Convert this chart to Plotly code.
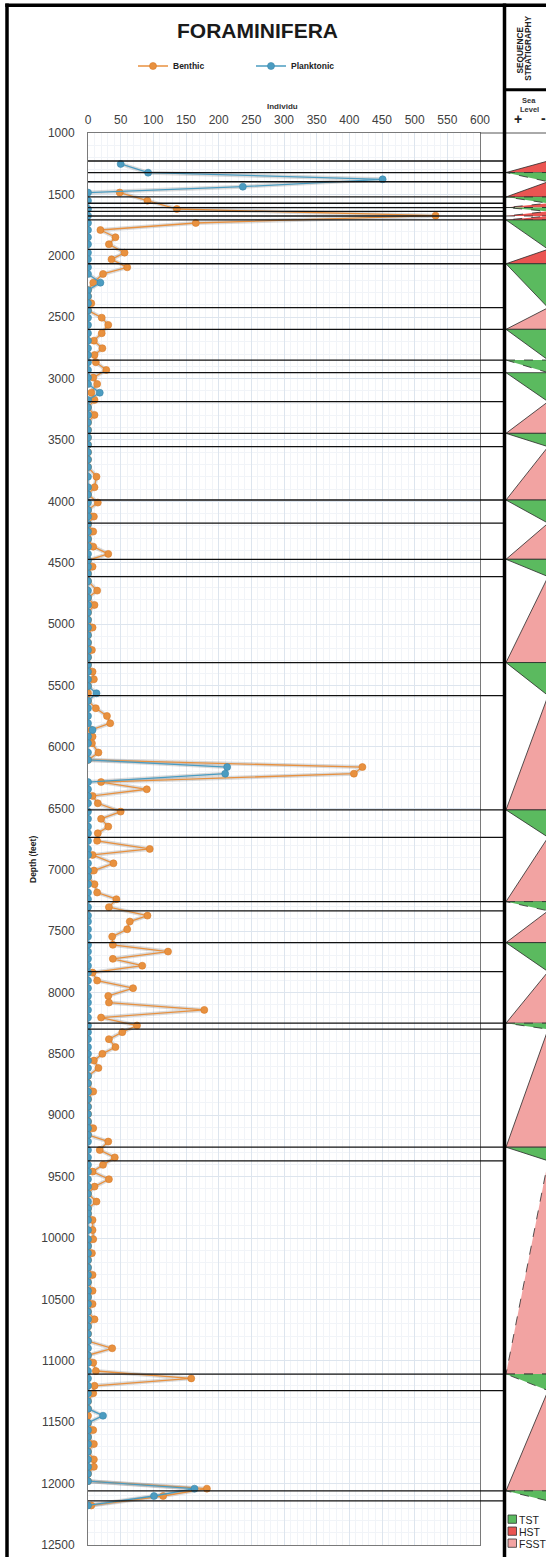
import plotly.graph_objects as go

# ---------------- data ----------------
depth = [1252, 1323, 1377, 1437, 1485, 1551, 1619, 1673, 1733, 1790, 1849, 1906, 1975, 2029, 2094, 2148,
         2219, 2280, 2330, 2387, 2445, 2504, 2563, 2631, 2691, 2753, 2808, 2867, 2930, 2992, 3044, 3115,
         3174, 3235, 3296, 3357, 3418, 3480, 3540, 3600, 3660, 3720, 3799, 3885, 3945, 4010, 4070, 4124,
         4185, 4246, 4307, 4369, 4428, 4480, 4532, 4590, 4650, 4727, 4785, 4844, 4905, 4965, 5028, 5090,
         5150, 5210, 5270, 5330, 5387, 5449, 5505, 5563, 5625, 5685, 5748, 5807, 5862, 5916, 5970, 6046,
         6106, 6164, 6218, 6286, 6345, 6399, 6459, 6527, 6586, 6649, 6703, 6765, 6831, 6880, 6948, 7007,
         7060, 7118, 7186, 7240, 7305, 7374, 7422, 7485, 7545, 7612, 7667, 7726, 7782, 7838, 7903, 7965,
         8028, 8082, 8142, 8204, 8269, 8323, 8380, 8445, 8500, 8555, 8615, 8680, 8740, 8807, 8870, 8930,
         8990, 9050, 9105, 9160, 9214, 9283, 9343, 9404, 9459, 9521, 9581, 9640, 9703, 9760, 9800, 9853,
         9935, 10009, 10065, 10123, 10180, 10240, 10300, 10360, 10430, 10480, 10537, 10600, 10662, 10720,
         10780, 10840, 10898, 10955, 11015, 11083, 11143, 11203, 11264, 11330, 11390, 11447, 11505, 11564,
         11620, 11678, 11740, 11803, 11863, 11920, 11980, 12041, 12101, 12178]

benthic = [None, None, None, None, 48.5, 91, 136, 532, 165, 19, 42, 32, 56, 36, 60, 23,
           8, 0, 0, 5, 0, 21, 31, 21, 9, 22, 10, 12, 28, 8, 14, 5,
           10, 0, 10, 0, 0, 0, 0, 0, 0, 0, 13, 10, 0, 15, 0, 9,
           0, 8, 0, 8, 31, 0, 7, 0, 0, 14, 0, 10, 0, 0, 7, 0,
           0, 6, 0, 0, 7, 9, 0, 0, 0, 12, 29, 34, 5, 7, 6, 16,
           0, 420, 407, 20, 90, 7, 15, 50, 20, 31, 15, 14, 94.5, 7, 39, 9,
           0, 10, 14, 43.5, 32, 91, 64, 60, 37, 38, 122.5, 38, 83, 7, 14, 69,
           31, 32, 178, 20, 75, 52.5, 32, 42, 22, 9, 16, 0, 0, 8, 0, 0,
           0, 0, 8, 0, 31, 18, 41, 23, 7, 32, 10, 0, 13, 0, 0, 7,
           7, 8, 0, 6, 0, 0, 7, 0, 7, 0, 7, 0, 10, 0,
           0, 0, 37, 0, 8, 12, 158, 10, 8, 0, 0, 0, 0, 8,
           0, 9, 0, 9, 9, 0, 0, 182, 115, 5]

planktonic = [50, 92, 451, 237, 0, 0, 0, 0, 0, 0, 0, 0, 0, 0, 0, 0,
              19, 0, 0, 0, 0, 0, 0, 0, 0, 0, 0, 0, 0, 0, 0, 18,
              0, 0, 0, 0, 0, 0, 0, 0, 0, 0, 0, 0, 0, 0, 0, 0,
              0, 0, 0, 0, 0, 0, 0, 0, 0, 0, 0, 0, 0, 0, 0, 0,
              0, 0, 0, 0, 0, 0, 0, 13, 0, 0, 0, 0, 7, 0, 0, 0,
              0, 213, 210, 0, 0, 0, 0, 0, 0, 0, 0, 0, 0, 0, 0, 0,
              0, 0, 0, 0, 0, 0, 0, 0, 0, 0, 0, 0, 0, 0, 0, 0,
              0, 0, 0, 0, 0, 0, 0, 0, 0, 0, 0, 0, 0, 0, 0, 0,
              0, 0, 0, 0, 0, 0, 0, 0, 0, 0, 0, 0, 0, 0, 0, 0,
              0, 0, 0, 0, 0, 0, 0, 0, 0, 0, 0, 0, 0, 0,
              0, 0, 0, 0, 0, 0, 0, 0, 0, 0, 0, 23, 0, 0,
              0, 0, 0, 0, 0, 0, 0, 163, 101, 0]

# sequence-stratigraphy surfaces (depth, feet) and the systems tract between consecutive surfaces
surfaces = [1228, 1322, 1397, 1521, 1572, 1607, 1638, 1676, 1708, 1947, 2065, 2423, 2599, 2849, 2952,
            3188, 3446, 3555, 3989, 4178, 4472, 4613, 5313, 5582, 6513, 6736, 7260, 7335, 7594, 7830,
            8250, 8299, 9260, 9371, 11108, 11242, 12059, 12141]
tracts = ["HST", "TST", "HST", "TST", "HST", "TST", "HST", "HST", "TST", "HST", "TST", "FSST", "TST",
          "TST", "TST", "FSST", "TST", "FSST", "TST", "FSST", "TST", "FSST", "TST", "FSST", "TST",
          "FSST", "TST", "FSST", "TST", "FSST", "TST", "FSST", "TST", "FSST", "TST", "FSST", "TST"]
dashed = [0, 1, 0, 1, 1, 1, 1, 1, 0, 0, 0, 0, 0, 1, 0, 0, 0, 0, 0, 0, 0, 0, 0, 0, 0,
          0, 1, 0, 0, 0, 1, 0, 0, 1, 1, 0, 1]

tract_names = ["TST", "HST", "FSST"]
tract_colors = {"TST": "#5BBA5F", "HST": "#EA5552", "FSST": "#F2A3A2"}

x_ticks = list(range(0, 601, 50))
y_ticks = list(range(1000, 12501, 500))

ORANGE = "#E8913F"
BLUE = "#4B9CC1"
FONT = "Liberation Sans, Arial, sans-serif"

# ---------------- geometry helpers (pixel -> paper) ----------------
W, H = 546, 1557
L, R_PLOT, T, B_PLOT = 88, 480, 133, 1545
PW = W - L          # plot width incl. right panel (margin r = 0)
PH = B_PLOT - T


def fx(px):
    return (px - L) / PW


def fy(py):
    return 1 - (py - T) / PH


fig = go.Figure()

# shadows
for vals in (benthic, planktonic):
    fig.add_trace(go.Scatter(x=vals, y=depth, mode="lines", showlegend=False, hoverinfo="skip",
                             line=dict(color="rgba(90,90,90,0.22)", width=4)))

fig.add_trace(go.Scatter(x=benthic, y=depth, mode="lines+markers", name="Benthic",
                         line=dict(color=ORANGE, width=1.3),
                         marker=dict(color=ORANGE, size=7, line=dict(color="#D87A28", width=0.6))))
fig.add_trace(go.Scatter(x=planktonic, y=depth, mode="lines+markers", name="Planktonic",
                         line=dict(color=BLUE, width=1.3),
                         marker=dict(color=BLUE, size=7, line=dict(color="#3A86AA", width=0.6))))
# invisible trace to instantiate the stratigraphy axis
fig.add_trace(go.Scatter(x=[0], y=[1000], xaxis="x2", yaxis="y", mode="markers",
                         marker=dict(opacity=0), showlegend=False, hoverinfo="skip"))

shapes = []
# white backing for the stratigraphy column (hides grid lines there)
shapes.append(dict(type="rect", xref="paper", yref="paper", x0=fx(505), x1=1.01, y0=fy(1545), y1=fy(133.5),
                   fillcolor="white", line=dict(width=0), layer="above"))
# systems tract triangles
for i, tr in enumerate(tracts):
    top, bot = surfaces[i], surfaces[i + 1]
    if tr == "TST":
        path = f"M 0,{top} L 1,{top} L 1,{bot} Z"
    else:
        path = f"M 0,{bot} L 1,{bot} L 1,{top} Z"
    shapes.append(dict(type="path", path=path, xref="x2", yref="y",
                       fillcolor=tract_colors[tr], layer="above",
                       line=dict(color="#2a2a2a", width=0.8, dash="dash" if dashed[i] else "solid")))
# surfaces (horizontal lines through the chart and the stratigraphy column)
for d in surfaces:
    shapes.append(dict(type="line", xref="paper", yref="y", x0=fx(L), x1=fx(505), y0=d, y1=d,
                       line=dict(color="#111111", width=1.3)))
# top line of the right panel
shapes.append(dict(type="line", xref="paper", yref="paper", x0=fx(480), x1=1, y0=fy(133), y1=fy(133),
                   line=dict(color="#555555", width=1)))
# outer frame
shapes.append(dict(type="line", xref="paper", yref="paper", x0=fx(7), x1=fx(7), y0=fy(3.5), y1=fy(1560),
                   line=dict(color="#000000", width=3.5)))
shapes.append(dict(type="line", xref="paper", yref="paper", x0=fx(5.3), x1=1.01, y0=fy(5.2), y1=fy(5.2),
                   line=dict(color="#000000", width=3.5)))
shapes.append(dict(type="line", xref="paper", yref="paper", x0=fx(504.5), x1=fx(504.5), y0=fy(3.5), y1=fy(1560),
                   line=dict(color="#000000", width=3.5)))
shapes.append(dict(type="line", xref="paper", yref="paper", x0=fx(504.5), x1=1.01, y0=fy(89.7), y1=fy(89.7),
                   line=dict(color="#000000", width=3)))
# tract legend squares
sq_top = [1515, 1527, 1539]
for name, ytop in zip(tract_names, sq_top):
    shapes.append(dict(type="rect", xref="paper", yref="paper", x0=fx(508), x1=fx(516.5),
                       y0=fy(ytop), y1=fy(ytop + 8.3), fillcolor=tract_colors[name],
                       line=dict(color="#333333", width=0.8), layer="above"))

annotations = [
    dict(text="FORAMINIFERA", x=fx(257), y=fy(31), font=dict(size=21, color="#1a1a1a", family=FONT, weight="bold")),
    dict(text="Individu", x=fx(282), y=fy(106), font=dict(size=8, color="#333333", family=FONT, weight="bold")),
    dict(text="Depth (feet)", x=fx(33), y=fy(860), textangle=-90,
         font=dict(size=8.5, color="#222222", family=FONT, weight="bold")),
    dict(text="SEQUENCE", x=fx(519.5), y=fy(50), textangle=-90,
         font=dict(size=8.3, color="#222222", family=FONT, weight="bold")),
    dict(text="STRATIGRAPHY", x=fx(528.3), y=fy(48.5), textangle=-90,
         font=dict(size=8.3, color="#222222", family=FONT, weight="bold")),
    dict(text="Sea", x=fx(529), y=fy(100), font=dict(size=7.5, color="#333333", family=FONT, weight="bold")),
    dict(text="Level", x=fx(529), y=fy(109.5), font=dict(size=7.5, color="#333333", family=FONT, weight="bold")),
    dict(text="+", x=fx(517.7), y=fy(118.5), font=dict(size=14, color="#222222", family=FONT, weight="bold")),
    dict(text="-", x=fx(543.3), y=fy(117.5), font=dict(size=14, color="#222222", family=FONT, weight="bold")),
]
for name, ytop in zip(tract_names, sq_top):
    annotations.append(dict(text=name, x=fx(516.5), y=fy(ytop + 4.5), xanchor="left",
                            font=dict(size=10.5, color="#222222", family=FONT)))
for a in annotations:
    a.setdefault("xref", "paper")
    a.setdefault("yref", "paper")
    a.setdefault("showarrow", False)
    a.setdefault("yanchor", "middle")
    a.setdefault("xanchor", "center")

fig.update_layout(
    width=W, height=H,
    margin=dict(l=L, r=0, t=T, b=H - B_PLOT, pad=0, autoexpand=False),
    paper_bgcolor="white", plot_bgcolor="white",
    font=dict(family=FONT, color="#404040"),
    showlegend=True,
    legend=dict(orientation="h", x=fx(133), y=fy(66), xanchor="left", yanchor="middle",
                entrywidth=73, entrywidthmode="pixels", bgcolor="rgba(0,0,0,0)",
                font=dict(size=8.5, color="#222222", family=FONT, weight="bold")),
    xaxis=dict(domain=[0, (R_PLOT - L) / PW], range=[0, 600], side="top",
               tickmode="array", tickvals=x_ticks, ticktext=[str(v) for v in x_ticks],
               tickfont=dict(size=12, color="#404040"), ticks="", ticklabelstandoff=3,
               showgrid=True, gridcolor="#dde5ee", gridwidth=1,
               minor=dict(tickmode="linear", tick0=0, dtick=10, showgrid=True, gridcolor="#f1f4f8"),
               showline=True, linecolor="#7a7a7a", linewidth=1, mirror=True, zeroline=False,
               fixedrange=True),
    xaxis2=dict(domain=[fx(506), 1], range=[0, 0.95], anchor="y", visible=False, fixedrange=True),
    yaxis=dict(range=[12500, 1000], tickmode="array", tickvals=y_ticks,
               ticktext=[str(v) for v in y_ticks],
               tickfont=dict(size=12, color="#404040"), ticks="", ticklabelstandoff=10,
               showgrid=True, gridcolor="#dde5ee", gridwidth=1,
               minor=dict(tickmode="linear", tick0=1000, dtick=100, showgrid=True, gridcolor="#f1f4f8"),
               showline=True, linecolor="#7a7a7a", linewidth=1, mirror=True, zeroline=False,
               fixedrange=True),
    shapes=shapes,
    annotations=annotations,
)

fig.write_html("out.html")
